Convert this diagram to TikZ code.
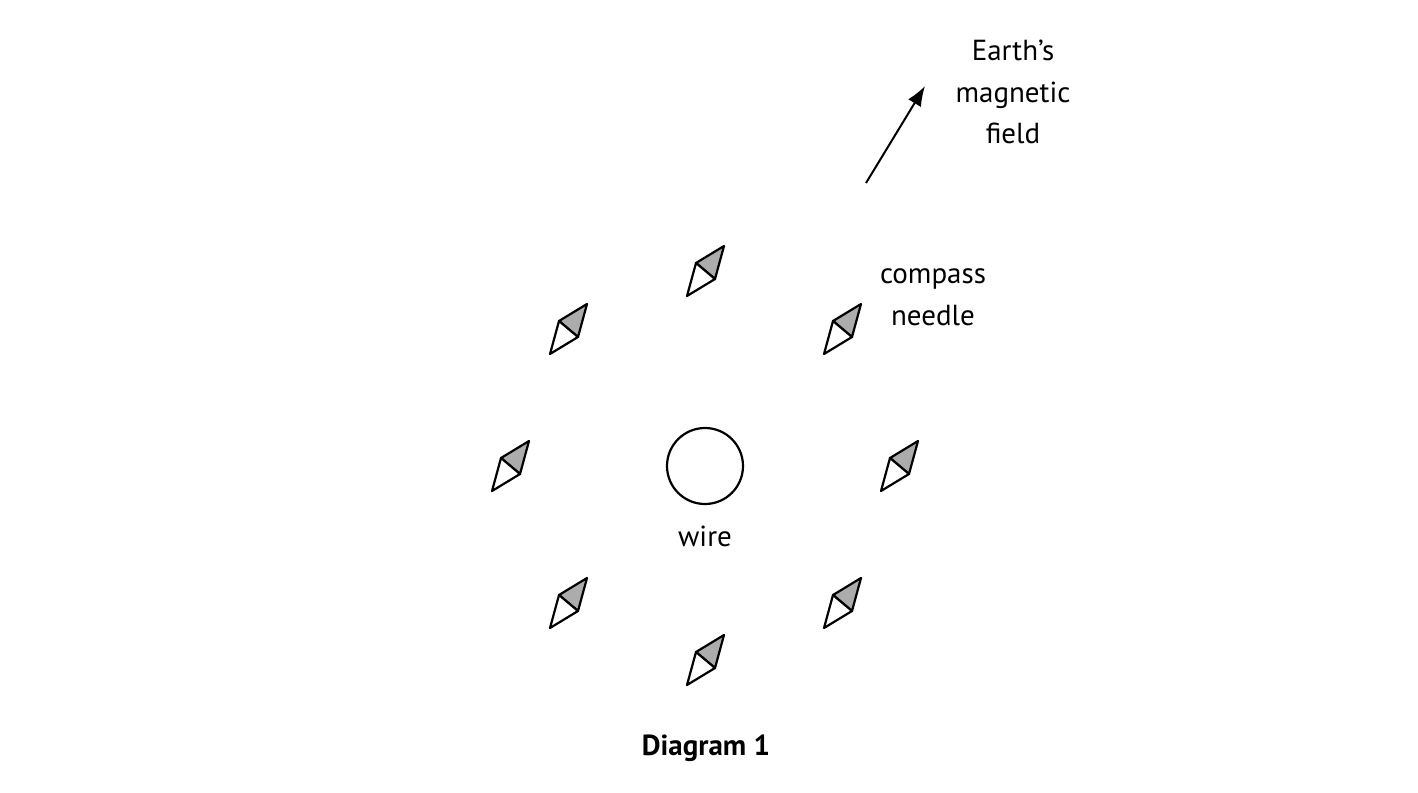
\documentclass[tikz,border=0pt]{standalone}
\usepackage{fontspec}
\setmainfont{PT Sans}
\usetikzlibrary{arrows.meta}
\begin{document}
\begin{tikzpicture}[x=1pt,y=-1pt,line width=2.2pt,line join=round,
  lbl/.style={font=\fontsize{29}{41.5}\selectfont,align=center,inner sep=0pt}]
\useasboundingbox (0,0) rectangle (1418,792);
\def\needle#1#2{%
  \begin{scope}[shift={(#1,#2)}]
   \filldraw[fill=gray!65] (19,-25) -- (-9,-8) -- (10,8) -- cycle;
   \filldraw[fill=white] (-18,25) -- (-9,-8) -- (10,8) -- cycle;
  \end{scope}}
\foreach \p/\q in {705/271,568/329,842/329,510/466,899/466,568/603,842/603,705/660}{\needle{\p}{\q}}
\node[circle,draw,minimum size=76pt,inner sep=0pt] (wire) at (705,466) {};
\node[lbl] (wl) at (705,536) {wire};
\coordinate (a0) at (866,183);
\coordinate (a1) at (925,86);
\draw[-{Latex[length=20pt,width=15pt]},line width=2pt] (a0) -- (a1);
\node[lbl] (earth) at (1013,92) {Earth's\\magnetic\\field};
\node[lbl] (cn) at (933,297) {compass\\needle};
\node[lbl,font=\fontsize{29}{35}\selectfont\bfseries] (d1) at (706,748) {Diagram 1};
\end{tikzpicture}
\end{document}
